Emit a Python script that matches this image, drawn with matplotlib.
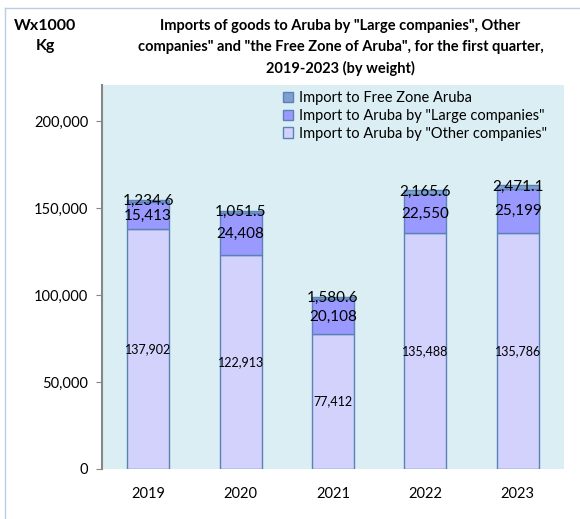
import matplotlib.pyplot as plt
import numpy as np

plt.rcParams['font.family'] = ['Lato', 'DejaVu Sans']

years = ['2019', '2020', '2021', '2022', '2023']
other = [137902, 122913, 77412, 135488, 135786]
large = [15413, 24408, 20108, 22550, 25199]
freezone = [1234.6, 1051.5, 1580.6, 2165.6, 2471.1]

other_lbl = ['137,902', '122,913', '77,412', '135,488', '135,786']
large_lbl = ['15,413', '24,408', '20,108', '22,550', '25,199']
free_lbl = ['1,234.6', '1,051.5', '1,580.6', '2,165.6', '2,471.1']

fig = plt.figure(figsize=(5.8, 5.19), dpi=100)
ax = fig.add_axes([102/580, 50/519, 462/580, 384/519])
ax.set_facecolor('#daeef3')

x = np.arange(len(years))
w = 0.455
edge = '#5a82b8'
b1 = ax.bar(x, other, w, color='#d2d2fc', edgecolor=edge, linewidth=1,
            label='Import to Aruba by "Other companies"')
b2 = ax.bar(x, large, w, bottom=other, color='#9999ff', edgecolor=edge, linewidth=1,
            label='Import to Aruba by "Large companies"')
bottom2 = np.array(other) + np.array(large)
b3 = ax.bar(x, freezone, w, bottom=bottom2, color='#7f9fcf', edgecolor=edge, linewidth=1,
            label='Import to Free Zone Aruba')

for i in range(len(years)):
    ax.text(x[i], other[i] / 2, other_lbl[i], ha='center', va='center', fontsize=9)
    ax.text(x[i], other[i] + large[i] / 2, large_lbl[i], ha='center', va='center', fontsize=11)
    ax.text(x[i], bottom2[i] + freezone[i] / 2, free_lbl[i], ha='center', va='center', fontsize=11)

ax.set_xlim(-0.5, 4.5)
ax.set_ylim(0, 220700)
ax.set_yticks([0, 50000, 100000, 150000, 200000])
ax.set_yticklabels(['0', '50,000', '100,000', '150,000', '200,000'])
ax.set_xticks(x)
ax.set_xticklabels(years)
ax.tick_params(axis='y', length=4, color='#868686', labelsize=10.5, pad=6)
ax.tick_params(axis='x', length=0, labelsize=10.5, pad=13)
for s in ['top', 'right', 'bottom']:
    ax.spines[s].set_visible(False)
ax.spines['left'].set_color('#868686')
ax.spines['left'].set_linewidth(1.5)

handles = [b3, b2, b1]
leg = ax.legend(handles=handles, labels=[h.get_label() for h in handles],
                loc='upper right', bbox_to_anchor=(0.985, 1.01), frameon=False,
                fontsize=10.5, handlelength=0.7, handleheight=0.7,
                handletextpad=0.4, labelspacing=0.25, borderaxespad=0.3)

fig.text(0.587, 0.963, 'Imports of goods to Aruba by "Large companies", Other\n'
         'companies" and "the Free Zone of Aruba", for the first quarter,\n'
         '2019-2023 (by weight)', ha='center', va='top', fontsize=10.5,
         fontweight='bold', linespacing=1.6)
fig.text(0.078, 0.963, 'Wx1000\nKg', ha='center', va='top', fontsize=11.5,
         fontweight='bold', linespacing=1.5)

# figure border (left and top visible)
fig.add_artist(plt.Line2D([5/580, 5/580], [0, 1 - 8/519], color='#b9cde5', lw=1))
fig.add_artist(plt.Line2D([5/580, 1], [1 - 8/519, 1 - 8/519], color='#b9cde5', lw=1))

plt.savefig('out.png', dpi=100)
